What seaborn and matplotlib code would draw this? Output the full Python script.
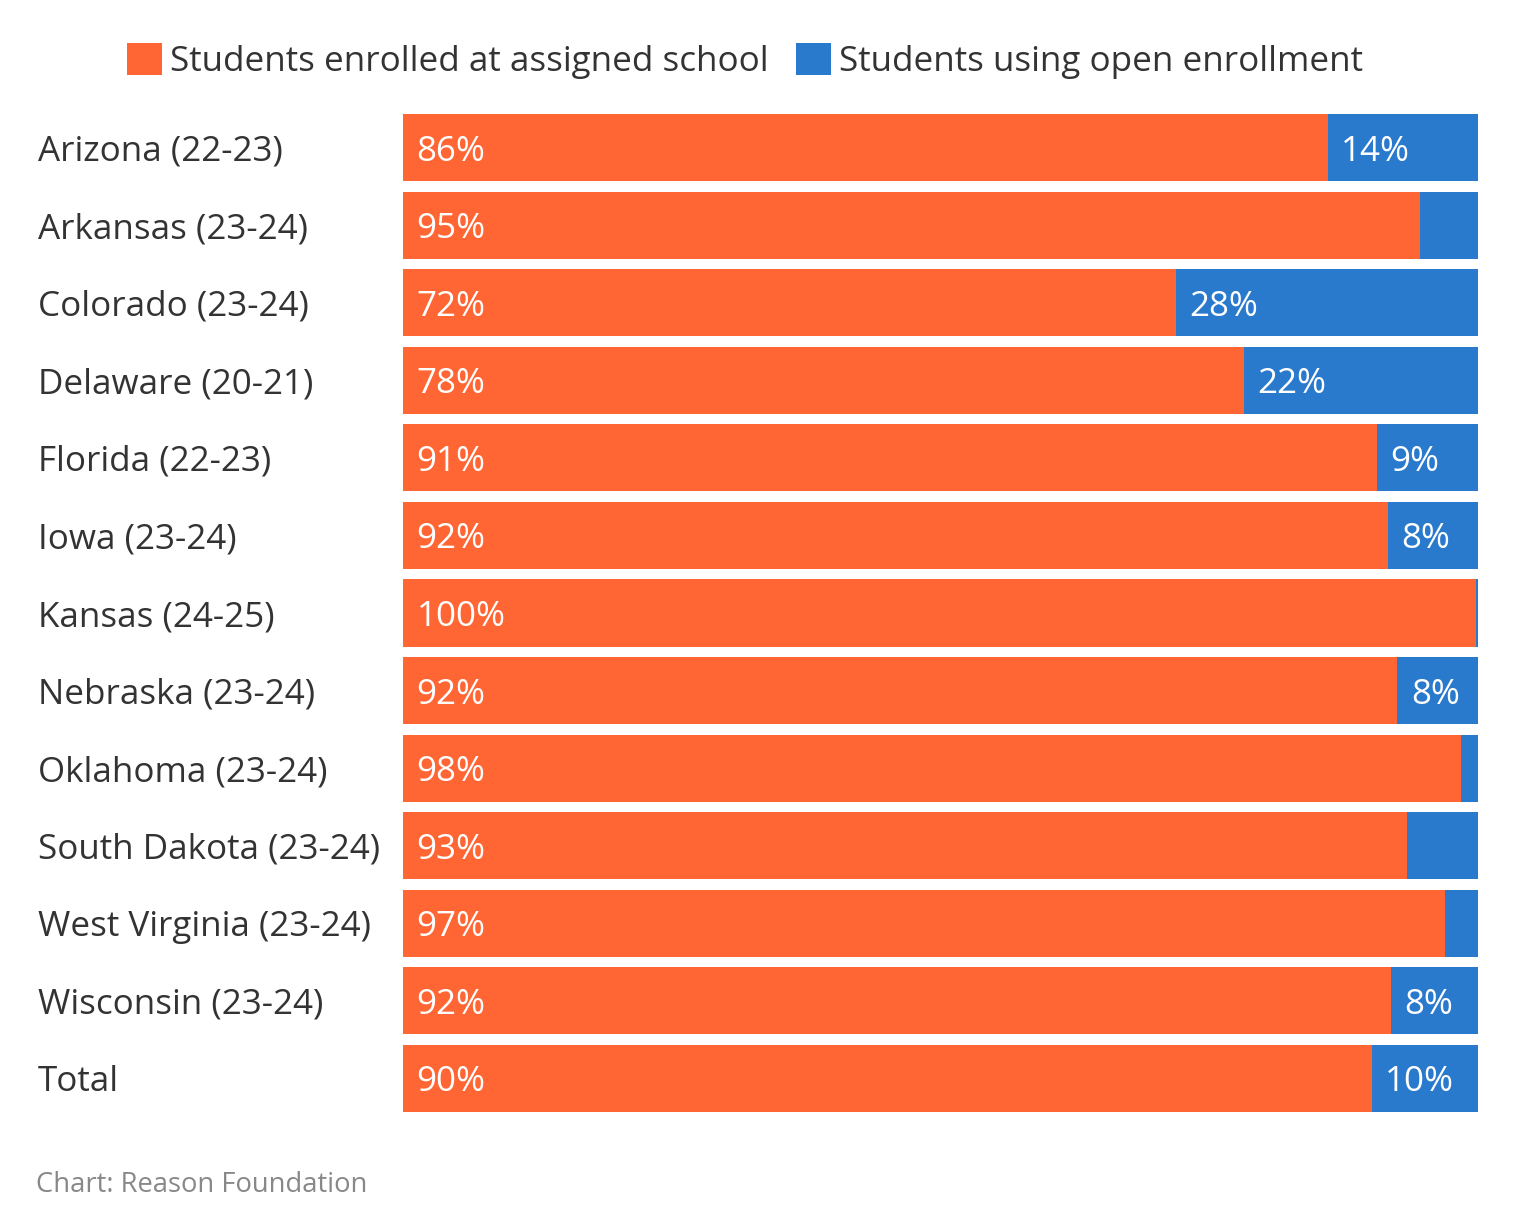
import matplotlib
matplotlib.use("Agg")
import matplotlib.pyplot as plt
from matplotlib.patches import Patch
import seaborn as sns
import pandas as pd

states = ["Arizona (22-23)", "Arkansas (23-24)", "Colorado (23-24)", "Delaware (20-21)",
          "Florida (22-23)", "Iowa (23-24)", "Kansas (24-25)", "Nebraska (23-24)",
          "Oklahoma (23-24)", "South Dakota (23-24)", "West Virginia (23-24)",
          "Wisconsin (23-24)", "Total"]
assigned = [86.0, 94.6, 71.9, 78.2, 90.6, 91.6, 99.8, 92.5, 98.4, 93.4, 96.9, 91.9, 90.1]
open_enroll = [14.0, 5.4, 28.1, 21.8, 9.4, 8.4, 0.2, 7.5, 1.6, 6.6, 3.1, 8.1, 9.9]
series_names = ["Students enrolled at assigned school", "Students using open enrollment"]

ORANGE = "#FF6633"
BLUE = "#2979CC"
TEXT = "#333333"

df = pd.DataFrame({"state": states, "assigned": assigned, "open": open_enroll})
df["total"] = df["assigned"] + df["open"]

sns.set_theme(style="white")
plt.rcParams["font.family"] = ["Open Sans", "DejaVu Sans"]

W, H = 1518, 1216
fig = plt.figure(figsize=(W / 100, H / 100), dpi=100)
ax = fig.add_axes([403 / W, 1 - 1117 / H, (1478 - 403) / W, (1117 - 109) / H])

sns.barplot(data=df, y="state", x="total", color=BLUE, orient="h", width=0.865,
            saturation=1, ax=ax, linewidth=0)
sns.barplot(data=df, y="state", x="assigned", color=ORANGE, orient="h", width=0.865,
            saturation=1, ax=ax, linewidth=0)

ax.set_xlim(0, 100)
ax.set_ylim(len(states) - 0.5, -0.5)
ax.set_xlabel("")
ax.set_ylabel("")
ax.set_xticks([])
for s in ax.spines.values():
    s.set_visible(False)

fs = 25.2
pad_pt = (403 - 38) * 0.72
ax.tick_params(axis="y", length=0, pad=pad_pt, labelsize=fs, labelcolor=TEXT)
for lab in ax.get_yticklabels():
    lab.set_horizontalalignment("left")

off = 13.5 * 0.72
dy = -13 * 0.72
for i, (a, o) in enumerate(zip(assigned, open_enroll)):
    ax.annotate(f"{round(a)}%", xy=(0, i), xytext=(off, dy), textcoords="offset points",
                ha="left", va="baseline", color="white", fontsize=fs)
    if o >= 7.5:
        ax.annotate(f"{round(o)}%", xy=(a, i), xytext=(off, dy), textcoords="offset points",
                    ha="left", va="baseline", color="white", fontsize=fs)

handles = [Patch(facecolor=ORANGE, edgecolor="none"), Patch(facecolor=BLUE, edgecolor="none")]
leg = fig.legend(handles, series_names, loc="center", ncol=2, frameon=False,
                 bbox_to_anchor=(745 / W, 1 - 61 / H), fontsize=fs,
                 handlelength=1.0, handleheight=1.0, handletextpad=0.23,
                 columnspacing=0.78, borderaxespad=0, borderpad=0)
for t in leg.get_texts():
    t.set_color(TEXT)

fig.text(36 / W, 1 - 1192 / H, "Chart: Reason Foundation", color="#888888",
         fontsize=19.7, ha="left", va="baseline")

fig.savefig("out.png", dpi=100, facecolor="white")
